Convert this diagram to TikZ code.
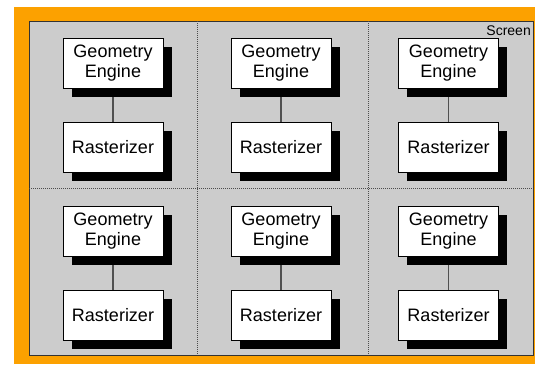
\documentclass[tikz,border=0pt]{standalone}
\usepackage{fontspec}
\setmainfont{Liberation Sans}
\usetikzlibrary{shadows,backgrounds}
\definecolor{frameorange}{RGB}{252,161,0}
\definecolor{screengrey}{RGB}{204,204,204}
\definecolor{linkgrey}{RGB}{80,80,80}
\tikzset{
  unitbox/.style={draw=black, line width=0.7pt, fill=white, minimum width=100pt,
    minimum height=50pt, inner sep=0pt, align=center,
    font=\fontsize{18}{20}\selectfont,
    drop shadow={shadow xshift=8.5pt, shadow yshift=-9pt, fill=black, opacity=1}},
  link/.style={draw=linkgrey, line width=1.2pt},
  divider/.style={draw=black!70, line width=0.6pt, dash pattern=on 1pt off 1pt}
}
\begin{document}
\begin{tikzpicture}[x=1pt, y=-1pt]
  \useasboundingbox (0,0) rectangle (535,364);
  % orange frame, grey screen and its tile boundaries
  \begin{scope}[on background layer]
    \fill[frameorange] (14,7) rectangle (535,364);
    \draw[fill=screengrey, draw=black!80, line width=0.8pt] (29,21) rectangle (533,355);
    \draw[divider] (197,21) -- (197,355);
    \draw[divider] (368,21) -- (368,355);
    \draw[divider] (29,188) -- (533,188);
  \end{scope}
  % processor pairs: geometry engine above rasterizer, one per screen tile
  \foreach \c/\cx in {1/113, 2/281, 3/448.5} {
    \foreach \r/\ry in {1/0, 2/168} {
      \node[unitbox] (ge\c\r) at (\cx, 63+\ry) {Geometry\\Engine};
      \node[unitbox] (ras\c\r) at (\cx, 147+\ry) {Rasterizer};
      \begin{scope}[on background layer]
        \draw[link] (ge\c\r.south) -- (ras\c\r.north);
      \end{scope}
    }
  }
  \node[anchor=base east, inner sep=0pt, font=\fontsize{14}{15}\selectfont] (screenlabel) at (531,35) {Screen};
\end{tikzpicture}
\end{document}
